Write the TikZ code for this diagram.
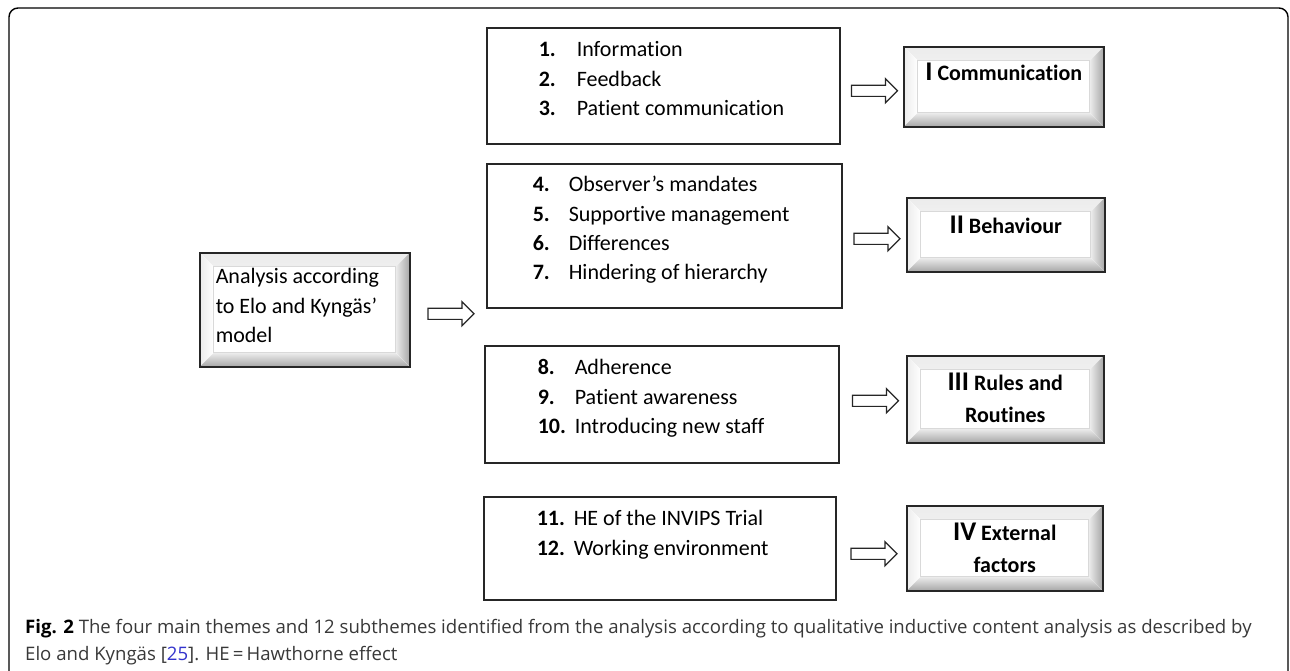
\documentclass[tikz,border=0pt]{standalone}
\usepackage{fontspec}
\usepackage{array}
\setmainfont{Carlito}[Ligatures=NoCommon]
\newfontfamily\capfont{Open Sans}
\usetikzlibrary{shapes.arrows}

\definecolor{citeblue}{RGB}{51,51,204}

\tikzset{
  box/.style={draw=black!85, line width=1.5pt, inner sep=0pt, anchor=north west,
    font=\fontsize{22}{29.3}\selectfont},
  bevel/.style={box, fill=white, path picture={
    \fill[top color=gray!15, bottom color=white]
      (path picture bounding box.north west) -- (path picture bounding box.north east)
      -- ([xshift=-14pt,yshift=-14pt]path picture bounding box.north east)
      -- ([xshift=14pt,yshift=-14pt]path picture bounding box.north west) -- cycle;
    \fill[left color=gray!15, right color=white]
      (path picture bounding box.north west) -- (path picture bounding box.south west)
      -- ([xshift=14pt,yshift=14pt]path picture bounding box.south west)
      -- ([xshift=14pt,yshift=-14pt]path picture bounding box.north west) -- cycle;
    \fill[left color=gray!15, right color=gray!70]
      (path picture bounding box.north east) -- (path picture bounding box.south east)
      -- ([xshift=-14pt,yshift=14pt]path picture bounding box.south east)
      -- ([xshift=-14pt,yshift=-14pt]path picture bounding box.north east) -- cycle;
    \fill[top color=gray!15, bottom color=gray!70]
      (path picture bounding box.south west) -- (path picture bounding box.south east)
      -- ([xshift=-14pt,yshift=14pt]path picture bounding box.south east)
      -- ([xshift=14pt,yshift=14pt]path picture bounding box.south west) -- cycle;
    \draw[gray!30, line width=0.8pt]
      ([xshift=14pt,yshift=14pt]path picture bounding box.south west)
      rectangle ([xshift=-14pt,yshift=-14pt]path picture bounding box.north east);
  }},
  theme/.style={bevel, font=\fontsize{22}{32}\selectfont\bfseries},
  fat/.style={single arrow, draw=black!85, line width=1.2pt, fill=white,
    minimum height=46pt, inner sep=5pt, single arrow head extend=6.5pt}
}

\begin{document}
\begin{tikzpicture}[x=1pt, y=-1pt]
\useasboundingbox (0,0) rectangle (1290,670);

% frame
\draw[line width=1.4pt, rounded corners=9pt] (9,700) -- (9,8) -- (1288,8) -- (1288,700);

% source box
\node[bevel, minimum width=210pt, text height=31pt, text depth=83pt] (ana) at (199,252)
  {\begin{tabular}[t]{@{}p{178pt}@{}}Analysis according\\to Elo and Kyngäs’\\model\end{tabular}};

% subthemes
\node[box, minimum width=353pt, text height=29pt, text depth=87pt] (b1) at (486,27)
  {\begin{tabular}[t]{@{}>{\bfseries}p{38pt}@{}p{211pt}@{}}
   1. & Information\\ 2. & Feedback\\ 3. & Patient communication\end{tabular}};
\node[box, minimum width=355pt, text height=28pt, text depth=116pt] (b2) at (486,163)
  {\begin{tabular}[t]{@{}>{\bfseries}p{36pt}@{}p{227pt}@{}}
   4. & Observer’s mandates\\ 5. & Supportive management\\
   6. & Differences\\ 7. & Hindering of hierarchy\end{tabular}};
\node[box, minimum width=354pt, text height=29pt, text depth=88pt] (b3) at (484,345)
  {\begin{tabular}[t]{@{}>{\bfseries}p{37pt}@{}p{211pt}@{}}
   8. & Adherence\\ 9. & Patient awareness\\ 10. & Introducing new staff\end{tabular}};
\node[box, minimum width=352pt, text height=29pt, text depth=74pt] (b4) at (483,496)
  {\begin{tabular}[t]{@{}>{\bfseries}p{37pt}@{}p{209pt}@{}}
   11. & HE of the INVIPS Trial\\ 12. & Working environment\end{tabular}};

% main themes
\node[theme, minimum width=200pt, text height=34pt, text depth=46pt] (t1) at (903,46)
  {\begin{tabular}[t]{@{}c@{}}{\fontsize{27}{27}\selectfont I} Communication\end{tabular}};
\node[theme, minimum width=198pt, text height=36pt, text depth=38pt] (t2) at (906,197)
  {\begin{tabular}[t]{@{}c@{}}{\fontsize{27}{27}\selectfont II} Behaviour\end{tabular}};
\node[theme, minimum width=197pt, text height=35pt, text depth=52pt] (t3) at (906,355)
  {\begin{tabular}[t]{@{}c@{}}{\fontsize{27}{27}\selectfont III} Rules and\\Routines\end{tabular}};
\node[theme, minimum width=196pt, text height=35pt, text depth=50pt] (t4) at (906,505)
  {\begin{tabular}[t]{@{}c@{}}{\fontsize{27}{27}\selectfont IV} External\\factors\end{tabular}};

% arrows
\path (ana.east) -- node[fat, yshift=-4pt]{} (ana.east -| b2.west);
\path (b1.east) -- node[fat, yshift=-4.5pt]{} (t1.west);
\path (b2.east) -- node[fat, yshift=-3.5pt]{} (t2.west);
\path (b3.east) -- node[fat, yshift=1pt]{} (t3.west);
\path (b4.east) -- node[fat, yshift=-5.5pt]{} (t4.west);

% caption
\node[anchor=north west, inner sep=0pt, align=left, text=black!78,
  font=\capfont\fontsize{18.6}{27}\selectfont] (cap) at (25,619)
  {{\bfseries\color{black}Fig. 2} The four main themes and 12 subthemes identified from the analysis according to qualitative inductive content analysis as described by\\
   Elo and Kyngäs [{\color{citeblue}25}]. HE\,=\,Hawthorne effect};
\end{tikzpicture}
\end{document}
